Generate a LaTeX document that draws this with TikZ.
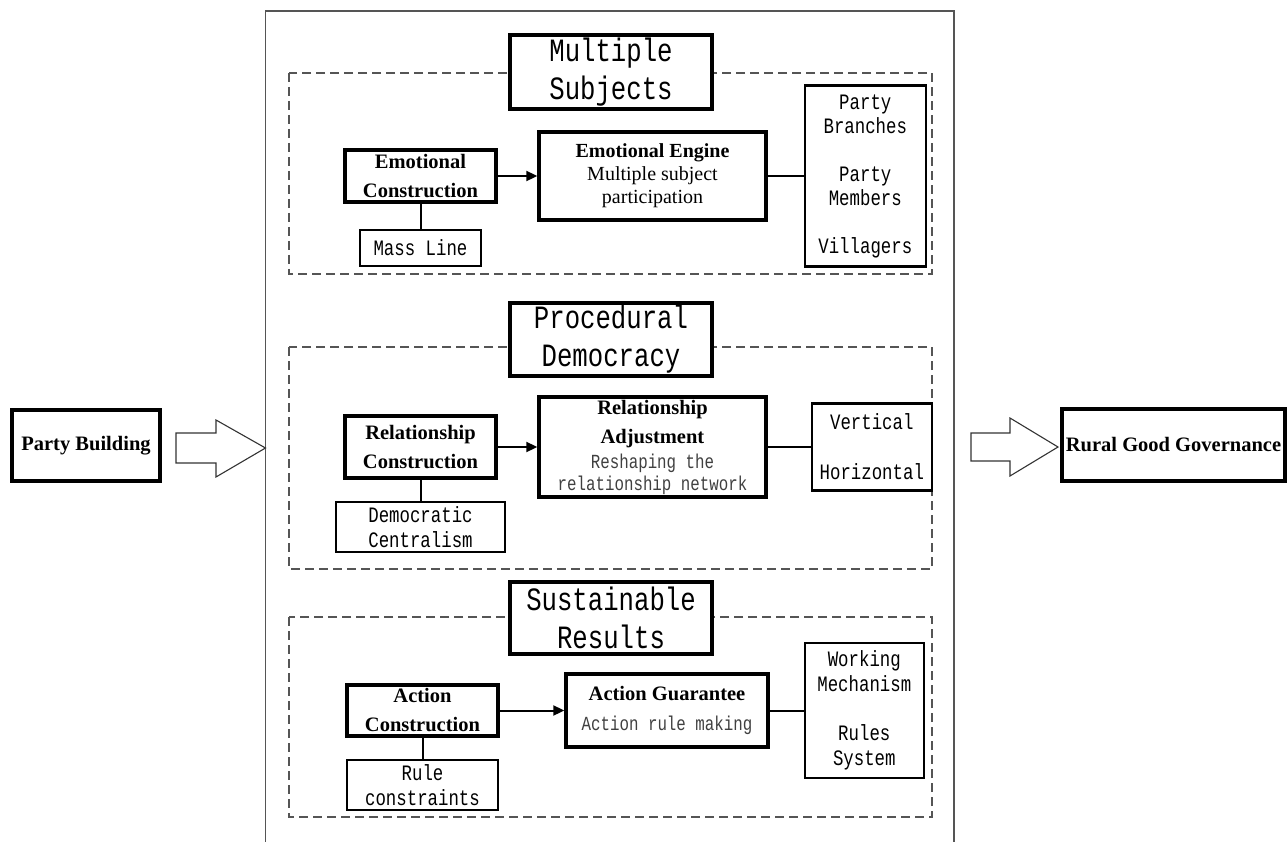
\documentclass[tikz,border=0pt]{standalone}
\usepackage{fontspec}
\setmainfont{Liberation Serif}
\newfontfamily\narrowmono[FakeStretch=0.79]{Liberation Mono}
\usetikzlibrary{positioning, arrows.meta}
\definecolor{framegray}{RGB}{85,85,85}
\definecolor{notegray}{RGB}{64,64,64}
\newcommand{\grayline}[1]{{\mdseries\narrowmono\fontsize{20}{22}\selectfont\color{notegray}#1}}
\tikzset{
>={Triangle[length=11pt,width=10pt]}, % filled arrow heads
box/.style={draw=black, line width=2.2pt, fill=white, inner sep=0pt, align=center, font={\narrowmono\fontsize{22}{24}\selectfont}}, % thin framed boxes
heavy/.style={box, line width=3.4pt, font={\bfseries\fontsize{20.5}{29}\selectfont}}, % thick framed boxes
headline/.style={heavy, font={\narrowmono\fontsize{32.5}{38}\selectfont}}, % section titles
group/.style={draw=framegray, line width=1.3pt, dash pattern=on 9pt off 5pt}, % dashed groups
link/.style={draw=black, line width=2pt}, % connectors
hollow/.style={draw=black!80, line width=1.1pt, fill=white}, % big arrows
}

\begin{document}
\begin{tikzpicture}[x=1pt, y=-1pt]
      \useasboundingbox (0,0) rectangle (1287,842);
      % outer frame, open at the bottom
      \draw[framegray, line width=1.5pt] (265.5,842) -- (265.5,11) -- (954,11) -- (954,842);
      \draw[group] (289,73) rectangle (932,274);
      \draw[group] (289,347) rectangle (932,569);
      \draw[group] (289,617) rectangle (932,817);

      % multiple subjects
      \node[headline, minimum width=202pt, minimum height=74pt] (subjects) at (611,72) {Multiple\\Subjects};
      \node[heavy, minimum width=151pt, minimum height=52pt] (emocon) at (420.5,176) {Emotional\\Construction};
      \node[box, below=25pt of emocon, minimum width=121pt, minimum height=36pt] (massline) {Mass Line};
      \node[heavy, minimum width=227pt, minimum height=88pt, font={\fontsize{20}{23}\selectfont}] (engine) at (652.5,176) {\textbf{Emotional Engine}\\Multiple subject\\participation};
      \node[box, right=36pt of engine, minimum width=121pt, minimum height=181pt] (members) {Party\\Branches\\[24pt]Party\\Members\\[24pt]Villagers};

      % procedural democracy
      \node[headline, minimum width=202pt, minimum height=73pt] (democracy) at (611,339.5) {Procedural\\Democracy};
      \node[heavy, minimum width=151pt, minimum height=62pt] (relcon) at (420.5,447) {Relationship\\Construction};
      \node[box, below=21pt of relcon, minimum width=169pt, minimum height=50pt, font={\narrowmono\fontsize{22}{25}\selectfont}] (centralism) {Democratic\\Centralism};
      \node[heavy, minimum width=227pt, minimum height=100pt] (adjust) at (652.5,447) {Relationship\\Adjustment\\[-4pt]\grayline{Reshaping the}\\[-7pt]\grayline{relationship network}};
      \node[box, right=43pt of adjust, minimum width=120pt, minimum height=87pt, font={\narrowmono\fontsize{22}{25}\selectfont}] (axes) {Vertical\\[25pt]Horizontal};

      % sustainable results
      \node[headline, minimum width=202pt, minimum height=72pt] (results) at (611,618) {Sustainable\\Results};
      \node[heavy, minimum width=151pt, minimum height=51pt] (actcon) at (422.5,710.5) {Action\\Construction};
      \node[box, below=21pt of actcon, minimum width=151pt, minimum height=50pt, font={\narrowmono\fontsize{22}{25}\selectfont}] (constraints) {Rule\\constraints};
      \node[heavy, minimum width=202pt, minimum height=73pt] (guarantee) at (667,710.5) {Action Guarantee\\[1pt]\grayline{Action rule making}};
      \node[box, right=34pt of guarantee, minimum width=119pt, minimum height=135pt, font={\narrowmono\fontsize{22}{25}\selectfont}] (mechanism) {Working\\Mechanism\\[24pt]Rules\\System};

      % input and output
      \node[heavy, minimum width=148pt, minimum height=71pt] (building) at (86,445.5) {Party Building};
      \node[heavy, minimum width=223pt, minimum height=72pt] (governance) at (1173.5,445) {Rural Good Governance};
      \coordinate (framein) at (265.5,448);
      \coordinate (frameout) at (1058,447);
      \draw[hollow] (176,433) -- (216,433) -- (216,420) -- (framein) -- (216,477) -- (216,463) -- (176,463) -- cycle;
      \draw[hollow] (971,433) -- (1010,433) -- (1010,418) -- (frameout) -- (1010,476) -- (1010,461) -- (971,461) -- cycle;

      \path (emocon) edge[link, ->] (engine)
      (engine) edge[link] (members)
      (emocon) edge[link] (massline)
      (relcon) edge[link, ->] (adjust)
      (adjust) edge[link] (axes)
      (relcon) edge[link] (centralism)
      (actcon) edge[link, ->] (guarantee)
      (guarantee) edge[link] (mechanism)
      (actcon) edge[link] (constraints);
    \end{tikzpicture}
\end{document}
